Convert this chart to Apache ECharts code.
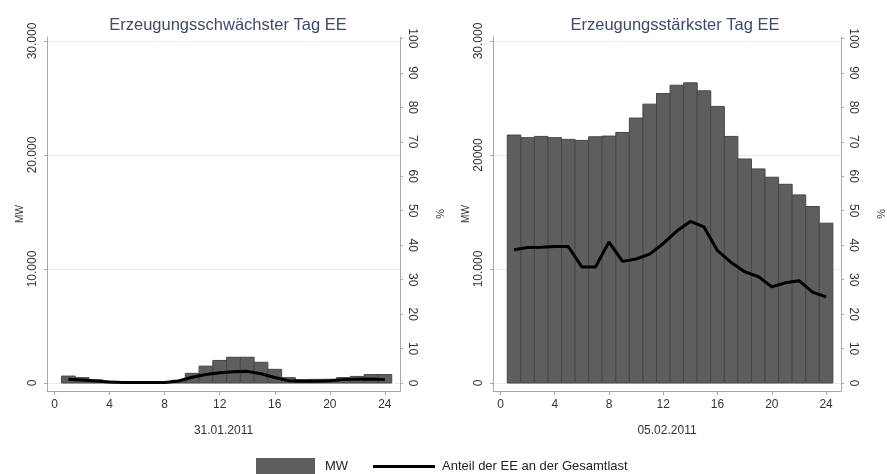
<!DOCTYPE html>
<html>
<head>
<meta charset="utf-8">
<script src="https://cdn.jsdelivr.net/npm/echarts@6/dist/echarts.min.js"></script>
<style>html,body{margin:0;padding:0;background:#fff}#c{width:887px;height:474px}</style>
</head>
<body>
<div id="c"></div>
<script>
const hours = [1,2,3,4,5,6,7,8,9,10,11,12,13,14,15,16,17,18,19,20,21,22,23,24];
const mwLow = [610,470,280,150,130,120,120,130,240,850,1480,1980,2260,2260,1820,1200,470,300,320,330,480,580,740,740];
const pctLow = [1.1,0.9,0.6,0.3,0.2,0.2,0.2,0.2,0.6,1.7,2.5,3.0,3.3,3.4,2.7,1.6,0.7,0.5,0.5,0.7,1.0,1.1,1.2,1.0];
const mwHigh = [21750,21520,21630,21520,21370,21280,21600,21660,21980,23240,24460,25390,26120,26330,25630,24260,21630,19650,18780,18050,17430,16500,15480,14020];
const pctHigh = [38.7,39.3,39.4,39.6,39.6,33.7,33.7,40.9,35.3,36.0,37.4,40.5,44.1,46.9,45.3,38.4,35.0,32.3,30.9,27.9,29.1,29.7,26.4,25.0];
const xTicks = [0,4,8,12,16,20,24];
const mwTicks = [0,10000,20000,30000];
const mwLabelsLeft = ['0','10.000','20.000','30.000'];
const mwLabelsRight = ['0','10.000','20000','30.000'];
const pctTicks = [0,10,20,30,40,50,60,70,80,90,100];
const titles = ['Erzeugungsschwächster Tag EE','Erzeugungsstärkster Tag EE'];
const dates = ['31.01.2011','05.02.2011'];
const nameMW = 'MW';
const nameShare = 'Anteil der EE an der Gesamtlast';

const FONT = 'Liberation Sans, Arial, sans-serif';
const axisGrey = '#a8a8a8';
const labelColor = '#333333';

const chart = echarts.init(document.getElementById('c'), null, {renderer:'canvas'});

function xAxis(i){
  return {
    type:'value', gridIndex:i, min:-0.55, max:25.1,
    name: dates[i], nameLocation:'middle', nameGap:34,
    nameTextStyle:{fontFamily:FONT,fontSize:12,color:labelColor},
    axisLine:{onZero:false,lineStyle:{color:axisGrey,width:1}},
    axisTick:{customValues:xTicks,length:4,lineStyle:{color:axisGrey}},
    axisLabel:{customValues:xTicks,margin:8,fontFamily:FONT,fontSize:12,color:labelColor},
    splitLine:{show:false}
  };
}
function yLeft(i, labels){
  return {
    type:'value', gridIndex:i, position:'left', min:-700, max:30350,
    name:nameMW, nameLocation:'middle', nameGap:22, nameRotate:90,
    nameTextStyle:{fontFamily:FONT,fontSize:10,color:labelColor},
    axisLine:{show:true,onZero:false,lineStyle:{color:axisGrey,width:1}},
    axisTick:{show:true,customValues:mwTicks,length:3,lineStyle:{color:axisGrey}},
    axisLabel:{customValues:mwTicks,rotate:90,margin:8,fontFamily:FONT,fontSize:12,color:labelColor,
      formatter:v=>labels[mwTicks.indexOf(v)]},
    splitLine:{show:true,lineStyle:{color:'#ececec',width:1}}
  };
}
function yRight(i){
  return {
    type:'value', gridIndex:i, position:'right', min:-2.3, max:100.4,
    name:'%', nameLocation:'middle', nameGap:34, nameRotate:-90,
    nameTextStyle:{fontFamily:FONT,fontSize:11,color:labelColor},
    axisLine:{show:true,onZero:false,lineStyle:{color:axisGrey,width:1}},
    axisTick:{show:true,customValues:pctTicks,length:3,lineStyle:{color:axisGrey}},
    axisLabel:{customValues:pctTicks,rotate:-90,margin:6,fontFamily:FONT,fontSize:12,color:labelColor},
    splitLine:{show:false}
  };
}
function barSeries(i, vals){
  return {
    type:'custom', name:nameMW, xAxisIndex:i, yAxisIndex:i*2,
    itemStyle:{color:'#5e5e5e'},
    data: hours.map((h,k)=>[h, vals[k]]),
    renderItem:(params, api)=>{
      const h = api.value(0), v = api.value(1);
      const p1 = api.coord([h-0.5, v]);
      const p0 = api.coord([h+0.5, 0]);
      return {type:'rect', shape:{x:p1[0], y:p1[1], width:p0[0]-p1[0], height:p0[1]-p1[1]},
        style:{fill:'#5e5e5e', stroke:'#474747', lineWidth:1}};
    },
    z:2
  };
}
function lineSeries(i, vals){
  return {
    type:'line', name:nameShare, xAxisIndex:i, yAxisIndex:i*2+1,
    data: hours.map((h,k)=>[h, vals[k]]),
    symbol:'none', showSymbol:false, lineStyle:{color:'#000',width:3}, itemStyle:{color:'#000'},
    z:3, animation:false
  };
}

chart.setOption({
  animation:false,
  backgroundColor:'#ffffff',
  textStyle:{fontFamily:FONT},
  title:[
    {text:titles[0], left:223, top:12, textAlign:'center', textStyle:{fontFamily:FONT,fontSize:16.5,fontWeight:'normal',color:'#3d4a6d'}},
    {text:titles[1], left:670, top:12, textAlign:'center', textStyle:{fontFamily:FONT,fontSize:16.5,fontWeight:'normal',color:'#3d4a6d'}}
  ],
  grid:[
    {left:47, top:37, width:353, height:354},
    {left:493, top:37, width:353, height:354}
  ],
  xAxis:[xAxis(0), xAxis(1)],
  yAxis:[yLeft(0, mwLabelsLeft), yRight(0), yLeft(1, mwLabelsRight), yRight(1)],
  legend:[
    {
      left:256, top:458, padding:0, itemWidth:59, itemHeight:16,
      textStyle:{fontFamily:FONT,fontSize:13,color:'#222',padding:[0,0,0,5]},
      data:[{name:nameMW, icon:'rect'}]
    },
    {
      left:373, top:460, padding:0, itemWidth:62, itemHeight:3,
      textStyle:{fontFamily:FONT,fontSize:13,color:'#222',padding:[0,0,0,2]},
      data:[{name:nameShare, icon:'rect'}]
    }
  ],
  series:[barSeries(0, mwLow), lineSeries(0, pctLow), barSeries(1, mwHigh), lineSeries(1, pctHigh)]
});
</script>
</body>
</html>
